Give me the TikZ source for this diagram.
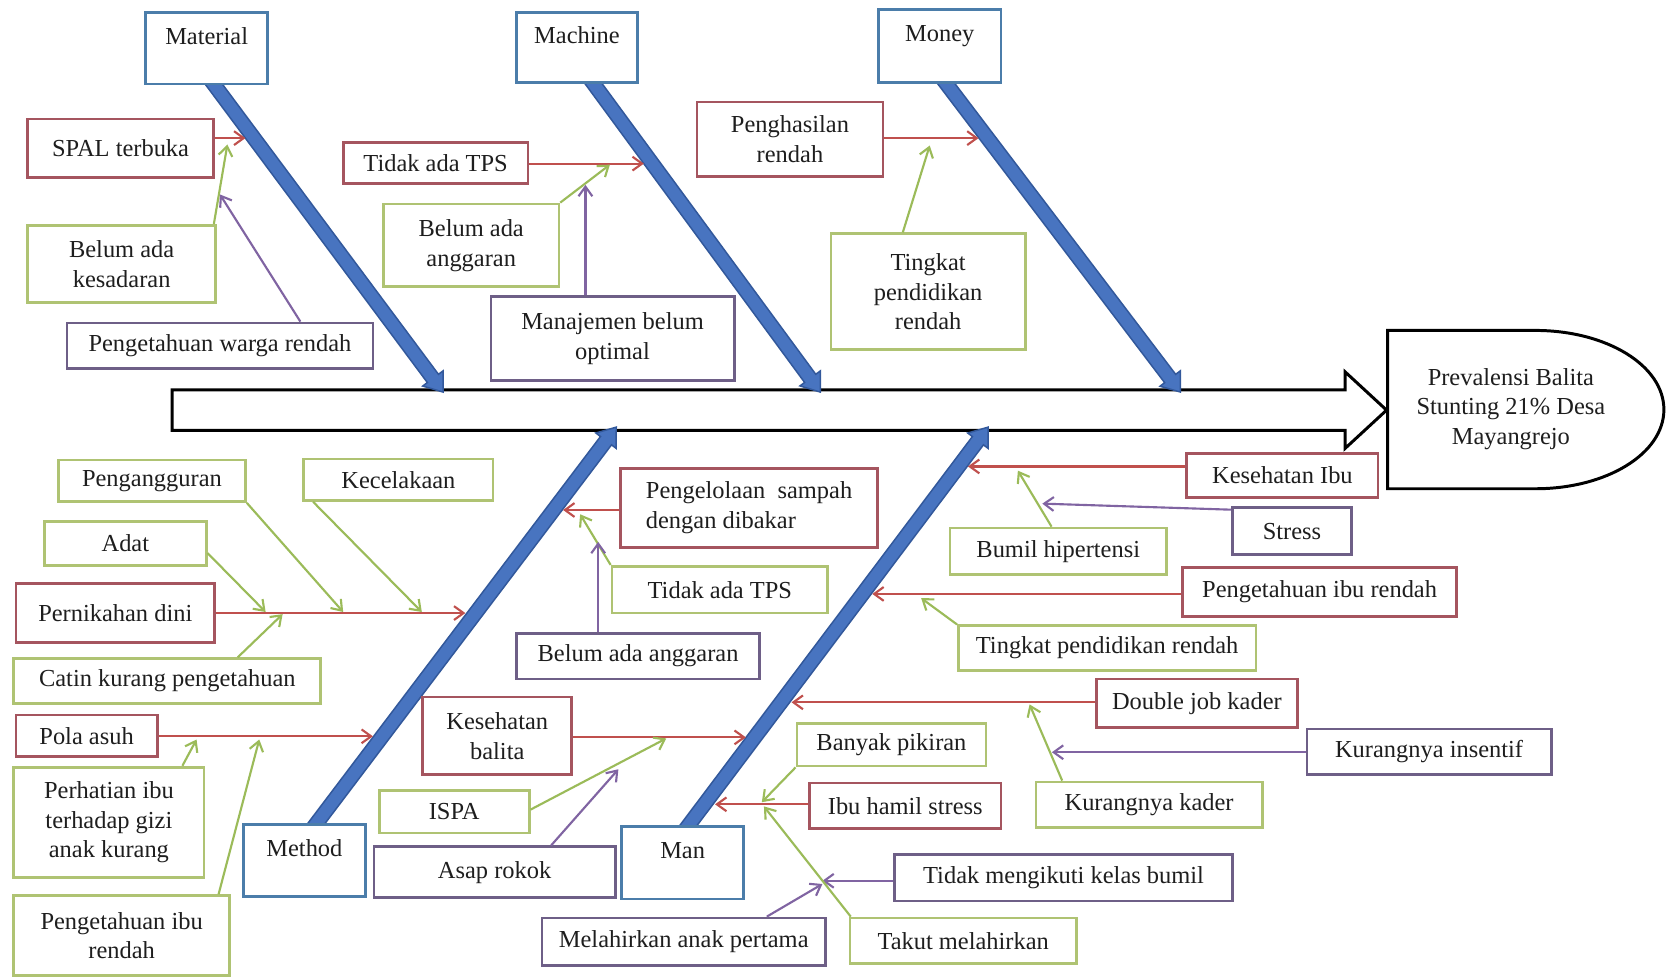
\documentclass[tikz,border=0pt]{standalone}
\usepackage{fontspec}
\setmainfont{Liberation Serif}
\usetikzlibrary{calc,arrows.meta}
\pgfdeclarelayer{bg}
\pgfsetlayers{bg,main}

\definecolor{rboxc}{RGB}{165,85,95}
\definecolor{gboxc}{RGB}{175,195,115}
\definecolor{pboxc}{RGB}{110,95,135}
\definecolor{bboxc}{RGB}{75,125,170}
\definecolor{rline}{RGB}{192,80,77}
\definecolor{gline}{RGB}{155,187,89}
\definecolor{pline}{RGB}{128,100,162}
\definecolor{bonefill}{RGB}{72,116,192}
\definecolor{bonedraw}{RGB}{50,88,155}
\definecolor{ink}{RGB}{30,30,30}

\newcommand\fbfont{\fontsize{11.5}{14}\selectfont}

% box from its corners: name, style, x1, y1, x2, y2, text
\newcommand\fishbox[7]{%
  \node[#2, minimum width={((#5)-(#3))*0.5pt}, minimum height={((#6)-(#4))*0.5pt}]
    (#1) at ({((#3)+(#5))/2},{((#4)+(#6))/2}) {#7};}

% thick blue bone with a block arrow head: start, tip
\newcommand\fishbone[2]{%
  \coordinate (fbH) at ($(#2)!8pt!(#1)$);
  \filldraw[bonestyle]
    ($(#1)!3.25pt!90:(#2)$) -- ($(fbH)!3.25pt!90:(#2)$) -- ($(fbH)!6pt!90:(#2)$) -- (#2)
    -- ($(fbH)!6pt!-90:(#2)$) -- ($(fbH)!3.25pt!-90:(#2)$) -- ($(#1)!3.25pt!-90:(#2)$) -- cycle;}

\begin{document}
\begin{tikzpicture}[x=0.5pt, y=-0.5pt,
  box/.style={rectangle, line width=1.3pt, fill=white, inner sep=1pt, align=center,
    font=\fbfont, text=ink},
  rbox/.style={box, draw=rboxc},
  gbox/.style={box, draw=gboxc},
  pbox/.style={box, draw=pboxc},
  bbox/.style={box, draw=bboxc, text depth=12pt},
  conn/.style={line width=1pt, -{Straight Barb[length=4.5pt,width=6.5pt]}},
  rarr/.style={conn, draw=rline},
  garr/.style={conn, draw=gline},
  parr/.style={conn, draw=pline},
  bonestyle/.style={fill=bonefill, draw=bonedraw, line width=0.7pt, line join=miter},
  spinestyle/.style={draw=black, line width=1.4pt, fill=white}]

\useasboundingbox (0,0) rectangle (1568,920);
\begin{pgfonlayer}{bg}
  \fill[white] (0,0) rectangle (1568,920);
\end{pgfonlayer}

% effect head
\draw[spinestyle] (1306,311) -- (1445,311)
  .. controls (1512,311) and (1566,344) .. (1566,385.5)
  .. controls (1566,427) and (1512,460) .. (1445,460) -- (1306,460) -- cycle;
\node[font=\fbfont, text=ink, align=center] (eff) at (1422,385)
  {Prevalensi Balita\\Stunting 21\% Desa\\Mayangrejo};

% category boxes
\fishbox{mat}{bbox}{137}{12}{252}{79}{Material}
\fishbox{mach}{bbox}{486}{12}{600}{78}{Machine}
\fishbox{mon}{bbox}{827}{9}{942}{78}{Money}
\fishbox{meth}{bbox}{229}{776}{344}{844}{Method}
\fishbox{man}{bbox}{585}{778}{700}{846}{Man}

% causes: Material
\fishbox{spal}{rbox}{26}{112}{201}{167}{SPAL terbuka}
\fishbox{bkes}{gbox}{26}{212}{203}{285}{Belum ada\\kesadaran}
\fishbox{pwr}{pbox}{63}{304}{351}{347}{Pengetahuan warga rendah}
% causes: Machine
\fishbox{tps1}{rbox}{323}{134}{497}{173}{Tidak ada TPS}
\fishbox{baa1}{gbox}{361}{192}{526}{270}{Belum ada\\anggaran}
\fishbox{mbo}{pbox}{462}{279}{691}{358}{Manajemen belum\\optimal}
% causes: Money
\fishbox{phr}{rbox}{656}{96}{831}{166}{Penghasilan\\rendah}
\fishbox{tpr1}{gbox}{782}{220}{965}{329}{Tingkat\\pendidikan\\rendah}
% causes: Method
\fishbox{peng}{gbox}{55}{433}{231}{472}{Pengangguran}
\fishbox{kec}{gbox}{286}{432}{464}{471}{Kecelakaan}
\fishbox{adat}{gbox}{42}{491}{194}{532}{Adat}
\fishbox{pdini}{rbox}{15}{549}{202}{605}{Pernikahan dini}
\fishbox{catin}{gbox}{13}{620}{302}{662}{Catin kurang pengetahuan}
\fishbox{pola}{rbox}{15}{673}{148}{712}{Pola asuh}
\fishbox{perh}{gbox}{13}{722}{192}{826}{Perhatian ibu\\terhadap gizi\\anak kurang}
\fishbox{pib1}{gbox}{13}{843}{216}{918}{Pengetahuan ibu\\rendah}
\fishbox{pengel}{rbox, align=left}{584}{441}{826}{515}{Pengelolaan \ sampah\\dengan dibakar}
\fishbox{tps2}{gbox}{576}{533}{779}{577}{Tidak ada TPS}
\fishbox{baa2}{pbox}{486}{596}{715}{639}{Belum ada anggaran}
% causes: Man
\fishbox{kbal}{rbox}{398}{656}{538}{729}{Kesehatan\\balita}
\fishbox{ispa}{gbox}{357}{744}{498}{784}{ISPA}
\fishbox{asap}{pbox}{352}{797}{579}{845}{Asap rokok}
\fishbox{kibu}{rbox}{1117}{427}{1297}{468}{Kesehatan Ibu}
\fishbox{stress}{pbox}{1160}{478}{1272}{522}{Stress}
\fishbox{bhip}{gbox}{894}{497}{1098}{541}{Bumil hipertensi}
\fishbox{pibr}{rbox}{1113}{534}{1371}{580}{Pengetahuan ibu rendah}
\fishbox{tpr2}{gbox}{902}{589}{1182}{631}{Tingkat pendidikan rendah}
\fishbox{djk}{rbox}{1032}{639}{1221}{685}{Double job kader}
\fishbox{kins}{pbox}{1230}{686}{1460}{729}{Kurangnya insentif}
\fishbox{kkad}{gbox}{975}{736}{1188}{779}{Kurangnya kader}
\fishbox{bpik}{gbox}{750}{681}{928}{721}{Banyak pikiran}
\fishbox{ihs}{rbox}{762}{737}{942}{780}{Ibu hamil stress}
\fishbox{tidakkb}{pbox}{842}{804}{1160}{848}{Tidak mengikuti kelas bumil}
\fishbox{mlh}{pbox}{510}{864}{777}{909}{Melahirkan anak pertama}
\fishbox{takut}{gbox}{800}{864}{1013}{907}{Takut melahirkan}

% spine and bones, kept under the boxes
\coordinate (matT) at (417,369);
\coordinate (machT) at (772,369);
\coordinate (monT) at (1111,369);
\coordinate (methT) at (580,402);
\coordinate (manT) at (930,402);
\coordinate (matB) at ($(mat.south)+(2.3,-7)$);
\coordinate (machB) at ($(mach.south)+(10.9,-7)$);
\coordinate (monB) at ($(mon.south)+(1.2,-7)$);
\coordinate (methB) at ($(meth.north)+(6.2,7)$);
\coordinate (manB) at ($(man.north)+(0.3,7)$);
\begin{pgfonlayer}{bg}
  \draw[spinestyle] (162,367) -- (1266,367) -- (1266,350) -- (1305,386)
    -- (1266,422) -- (1266,405) -- (162,405) -- cycle;
  \fishbone{matB}{matT}
  \fishbone{machB}{machT}
  \fishbone{monB}{monT}
  \fishbone{methB}{methT}
  \fishbone{manB}{manT}
\end{pgfonlayer}

% Material arrows
\coordinate (a1) at (231,130);
\coordinate (a2) at (214,136);
\coordinate (a3) at (207,183);
\draw[rarr] (spal.east |- a1) -- (a1);
\draw[garr] ($(bkes.north east)+(-3,0)$) -- (a2);
\draw[parr] ($(pwr.north west)+(221,0)$) -- (a3);

% Machine arrows
\coordinate (a4) at (606,154);
\coordinate (a5) at (574,155);
\coordinate (a6) at (551,174);
\draw[rarr] (tps1.east |- a4) -- (a4);
\draw[garr] (baa1.north east) -- (a5);
\draw[parr] (mbo.north -| a6) -- (a6);

% Money arrows
\coordinate (a7) at (921,130);
\coordinate (a8) at (875,137);
\draw[rarr] (phr.east |- a7) -- (a7);
\draw[garr] ($(tpr1.north west)+(69,0)$) -- (a8);

% Method arrows
\coordinate (b1) at (438,577);
\coordinate (b2) at (250,576);
\coordinate (b3) at (323,576);
\coordinate (b4) at (397,576);
\coordinate (b5) at (266,578);
\coordinate (b6) at (351,693);
\coordinate (b7) at (185,696);
\coordinate (b8) at (244,696);
\draw[rarr] (pdini.east |- b1) -- (b1);
\draw[garr] ($(adat.east)+(0,9)$) -- (b2);
\draw[garr] (peng.south east) -- (b3);
\draw[garr] ($(kec.south west)+(10,0)$) -- (b4);
\draw[garr] ($(catin.north west)+(212,0)$) -- (b5);
\draw[rarr] (pola.east |- b6) -- (b6);
\draw[garr] ($(perh.north west)+(160,0)$) -- (b7);
\draw[garr] ($(pib1.north west)+(194,0)$) -- (b8);

\coordinate (b9) at (530,480);
\coordinate (b10) at (546,484);
\coordinate (b11) at (563,510);
\draw[rarr] (pengel.west |- b9) -- (b9);
\draw[garr] (tps2.north west) -- (b10);
\draw[parr] (baa2.north -| b11) -- (b11);

% Man arrows
\coordinate (c1) at (702,694);
\coordinate (c2) at (627,695);
\coordinate (c3) at (582,724);
\draw[rarr] (kbal.east |- c1) -- (c1);
\draw[garr] ($(ispa.east)+(0,-2)$) -- (c2);
\draw[parr] ($(asap.north west)+(168,0)$) -- (c3);

\coordinate (c4) at (911,439);
\coordinate (c5) at (958,443);
\coordinate (c6) at (981,474);
\draw[rarr] (kibu.west |- c4) -- (c4);
\draw[garr] ($(bhip.north west)+(97,0)$) -- (c5);
\draw[parr] ($(stress.north west)+(0,3)$) -- (c6);

\coordinate (c7) at (821,559);
\coordinate (c8) at (867,563);
\draw[rarr] (pibr.west |- c7) -- (c7);
\draw[garr] (tpr2.north west) -- (c8);

\coordinate (c9) at (745,661);
\coordinate (c10) at (969,663);
\coordinate (c11) at (990,708);
\draw[rarr] (djk.west |- c9) -- (c9);
\draw[garr] ($(kkad.north west)+(26,0)$) -- (c10);
\draw[parr] (kins.west |- c11) -- (c11);

\coordinate (c12) at (673,757);
\coordinate (c13) at (717,755);
\coordinate (c14) at (774,829);
\coordinate (c15) at (719,759);
\coordinate (c16) at (774,832);
\draw[rarr] (ihs.west |- c12) -- (c12);
\draw[garr] (bpik.south west) -- (c13);
\draw[parr] (tidakkb.west |- c14) -- (c14);
\draw[garr] ($(takut.north west)+(2,0)$) -- (c15);
\draw[parr] ($(mlh.north west)+(213,0)$) -- (c16);

\end{tikzpicture}
\end{document}
